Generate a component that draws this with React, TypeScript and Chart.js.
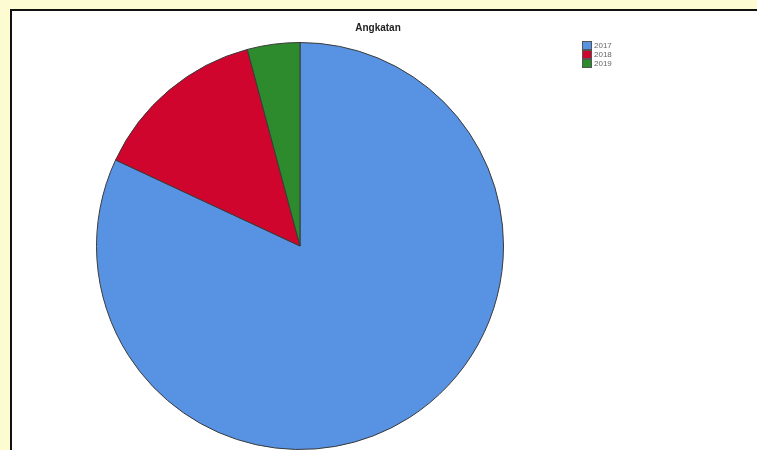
import React, { useEffect, useRef } from "react";
import { Chart, registerables } from "chart.js";

Chart.register(...registerables);

const categories = ["2017", "2018", "2019"];
const counts = [59, 10, 3];
const colors = ["#5793e2", "#d0052e", "#2d8a2d"];
const chartTitle = "Angkatan";

export default function App() {
  const ref = useRef<HTMLCanvasElement | null>(null);

  useEffect(() => {
    document.body.style.margin = "0";
    const ctx = ref.current!;
    const chart = new Chart(ctx, {
      type: "pie",
      data: {
        labels: categories,
        datasets: [
          {
            data: counts,
            backgroundColor: colors,
            borderColor: "#3a3a3a",
            borderWidth: 1,
          },
        ],
      },
      options: {
        animation: false,
        responsive: false,
        maintainAspectRatio: false,
        layout: { padding: { left: 96, right: 253, top: 42, bottom: 0 } },
        plugins: {
          legend: { display: false },
          title: { display: false },
          tooltip: { enabled: false },
        },
      },
    });
    return () => chart.destroy();
  }, []);

  return (
    <div
      style={{
        position: "relative",
        width: 757,
        height: 450,
        overflow: "hidden",
        background: "#fdfbd2",
        fontFamily: "'Liberation Sans', Arial, sans-serif",
      }}
    >
      <div
        style={{
          position: "absolute",
          left: 10,
          top: 9,
          width: 800,
          height: 500,
          background: "#ffffff",
          border: "2px solid #111",
          boxSizing: "border-box",
        }}
      />
      <canvas
        ref={ref}
        width={757}
        height={450}
        style={{ position: "absolute", left: 0, top: 0, width: 757, height: 450 }}
      />
      <div
        style={{
          position: "absolute",
          left: 328,
          top: 22,
          width: 100,
          textAlign: "center",
          fontSize: 10,
          fontWeight: "bold",
          color: "#222",
        }}
      >
        {chartTitle}
      </div>
      <div style={{ position: "absolute", left: 582, top: 41 }}>
        {categories.map((c, i) => (
          <div
            key={c}
            style={{ display: "flex", alignItems: "center", height: 9, fontSize: 8, color: "#666" }}
          >
            <span
              style={{
                display: "inline-block",
                width: 8,
                height: 7,
                background: colors[i],
                border: "1px solid #555",
                marginRight: 2,
              }}
            />
            {c}
          </div>
        ))}
      </div>
    </div>
  );
}
